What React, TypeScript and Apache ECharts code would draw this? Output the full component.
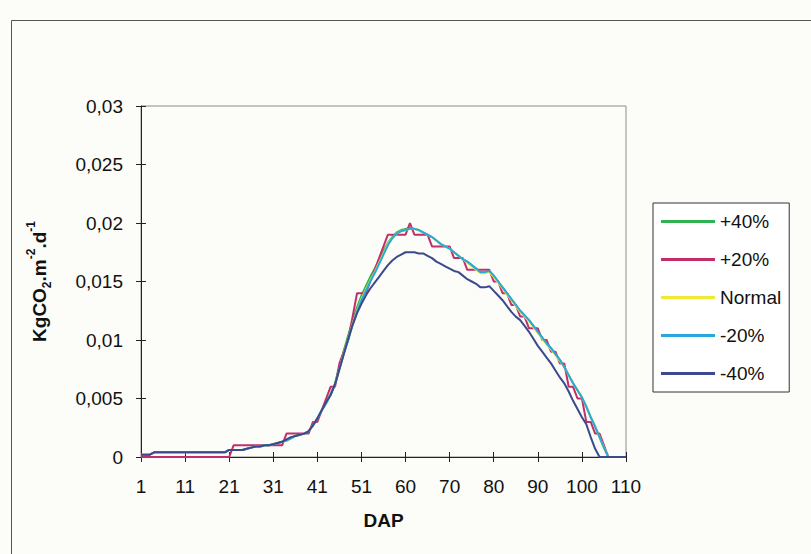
import React, { useEffect, useRef } from 'react';
import * as echarts from 'echarts';

// 111 day positions on the category axis (index 0 = DAP 1, index 110 = DAP 110)
const categories: string[] = Array.from({ length: 111 }, (_, i) => String(i));
const xTickLabels = ['1', '11', '21', '31', '41', '51', '60', '70', '80', '90', '100', '110'];
const yTickLabels = ['0', '0,005', '0,01', '0,015', '0,02', '0,025', '0,03'];
const seriesNames = ['+40%', '+20%', 'Normal', '-20%', '-40%'];
const seriesColors = ['#2fb24f', '#c42d6b', '#efe936', '#2aa8dc', '#3a4a8c'];

const plus40 = [
  0.0002, 0.0002, 0.0002, 0.0004, 0.0004, 0.0004, 0.0004, 0.0004, 0.0004, 0.0004,
  0.0004, 0.0004, 0.0004, 0.0004, 0.0004, 0.0004, 0.0004, 0.0004, 0.0004, 0.0004,
  0.0006, 0.0006, 0.0006, 0.0006, 0.0007, 0.0008, 0.0009, 0.0009, 0.0010, 0.0010,
  0.0011, 0.0012, 0.0013, 0.0014, 0.0016, 0.0018, 0.0019, 0.0020, 0.0022, 0.0027,
  0.0033, 0.0040, 0.0046, 0.0054, 0.0063, 0.0077, 0.0091, 0.0104, 0.0117, 0.0128,
  0.0138, 0.0146, 0.0154, 0.0161, 0.0168, 0.0176, 0.0183, 0.0188, 0.0192, 0.0194,
  0.0195, 0.0196, 0.0195, 0.0194, 0.0192, 0.0190, 0.0188, 0.0185, 0.0182, 0.0180,
  0.0178, 0.0175, 0.0172, 0.0169, 0.0167, 0.0164, 0.0161, 0.0158, 0.0158, 0.0159,
  0.0155, 0.0150, 0.0145, 0.0140, 0.0135, 0.0130, 0.0125, 0.0121, 0.0117, 0.0112,
  0.0107, 0.0102, 0.0097, 0.0093, 0.0088, 0.0083, 0.0077, 0.0070, 0.0063, 0.0057,
  0.0051, 0.0043, 0.0034, 0.0026, 0.0017, 0.0008, 0, 0, 0, 0,
  0,
];

const plus20 = [
  0, 0, 0, 0, 0, 0, 0, 0, 0, 0,
  0, 0, 0, 0, 0, 0, 0, 0, 0, 0,
  0, 0.001, 0.001, 0.001, 0.001, 0.001, 0.001, 0.001, 0.001, 0.001,
  0.001, 0.001, 0.001, 0.002, 0.002, 0.002, 0.002, 0.002, 0.002, 0.003,
  0.003, 0.004, 0.005, 0.006, 0.006, 0.008, 0.009, 0.010, 0.012, 0.014,
  0.014, 0.014, 0.015, 0.016, 0.017, 0.018, 0.019, 0.019, 0.019, 0.019,
  0.019, 0.020, 0.019, 0.019, 0.019, 0.019, 0.018, 0.018, 0.018, 0.018,
  0.018, 0.017, 0.017, 0.017, 0.016, 0.016, 0.016, 0.016, 0.016, 0.016,
  0.015, 0.015, 0.014, 0.014, 0.013, 0.013, 0.012, 0.012, 0.011, 0.011,
  0.011, 0.010, 0.010, 0.009, 0.009, 0.008, 0.008, 0.006, 0.006, 0.005,
  0.005, 0.003, 0.003, 0.002, 0.002, 0.001, 0, 0, 0, 0,
  0,
];

const normal = [
  0.0002, 0.0002, 0.0002, 0.0004, 0.0004, 0.0004, 0.0004, 0.0004, 0.0004, 0.0004,
  0.0004, 0.0004, 0.0004, 0.0004, 0.0004, 0.0004, 0.0004, 0.0004, 0.0004, 0.0004,
  0.0006, 0.0006, 0.0006, 0.0006, 0.0007, 0.0008, 0.0009, 0.0009, 0.0010, 0.0010,
  0.0011, 0.0012, 0.0013, 0.0014, 0.0016, 0.0018, 0.0019, 0.0020, 0.0022, 0.0027,
  0.0033, 0.0040, 0.0046, 0.0053, 0.0062, 0.0075, 0.0089, 0.0101, 0.0114, 0.0125,
  0.0135, 0.0143, 0.0151, 0.0158, 0.0166, 0.0174, 0.0182, 0.0187, 0.0191, 0.0193,
  0.0194, 0.0195, 0.0195, 0.0194, 0.0192, 0.0190, 0.0188, 0.0185, 0.0182, 0.0180,
  0.0178, 0.0175, 0.0172, 0.0169, 0.0166, 0.0163, 0.0160, 0.0157, 0.0157, 0.0158,
  0.0154, 0.0149, 0.0144, 0.0139, 0.0134, 0.0129, 0.0124, 0.0120, 0.0116, 0.0111,
  0.0106, 0.0101, 0.0096, 0.0092, 0.0087, 0.0082, 0.0077, 0.0070, 0.0063, 0.0057,
  0.0051, 0.0043, 0.0034, 0.0026, 0.0017, 0.0008, 0, 0, 0, 0,
  0,
];

const minus20 = [
  0.0002, 0.0002, 0.0002, 0.0004, 0.0004, 0.0004, 0.0004, 0.0004, 0.0004, 0.0004,
  0.0004, 0.0004, 0.0004, 0.0004, 0.0004, 0.0004, 0.0004, 0.0004, 0.0004, 0.0004,
  0.0006, 0.0006, 0.0006, 0.0006, 0.0007, 0.0008, 0.0009, 0.0009, 0.0010, 0.0010,
  0.0011, 0.0012, 0.0013, 0.0014, 0.0016, 0.0018, 0.0019, 0.0020, 0.0022, 0.0027,
  0.0033, 0.0040, 0.0046, 0.0053, 0.0062, 0.0075, 0.0088, 0.0100, 0.0113, 0.0124,
  0.0134, 0.0142, 0.0150, 0.0157, 0.0165, 0.0173, 0.0181, 0.0187, 0.0191, 0.0193,
  0.0194, 0.0195, 0.0195, 0.0194, 0.0192, 0.0190, 0.0188, 0.0185, 0.0182, 0.0180,
  0.0178, 0.0175, 0.0172, 0.0169, 0.0167, 0.0164, 0.0161, 0.0158, 0.0158, 0.0159,
  0.0155, 0.0150, 0.0145, 0.0140, 0.0135, 0.0130, 0.0125, 0.0121, 0.0117, 0.0112,
  0.0107, 0.0102, 0.0097, 0.0093, 0.0088, 0.0083, 0.0077, 0.0070, 0.0063, 0.0057,
  0.0051, 0.0043, 0.0034, 0.0026, 0.0017, 0.0008, 0, 0, 0, 0,
  0,
];

const minus40 = [
  0.0002, 0.0002, 0.0002, 0.0004, 0.0004, 0.0004, 0.0004, 0.0004, 0.0004, 0.0004,
  0.0004, 0.0004, 0.0004, 0.0004, 0.0004, 0.0004, 0.0004, 0.0004, 0.0004, 0.0004,
  0.0006, 0.0006, 0.0006, 0.0006, 0.0007, 0.0008, 0.0009, 0.0009, 0.0010, 0.0010,
  0.0011, 0.0012, 0.0013, 0.0015, 0.0017, 0.0018, 0.0019, 0.0020, 0.0022, 0.0027,
  0.0033, 0.0040, 0.0047, 0.0053, 0.0062, 0.0075, 0.0088, 0.0101, 0.0113, 0.0123,
  0.0131, 0.0138, 0.0144, 0.0149, 0.0154, 0.0159, 0.0164, 0.0168, 0.0171, 0.0173,
  0.0175, 0.0175, 0.0175, 0.0174, 0.0174, 0.0172, 0.0170, 0.0167, 0.0165, 0.0163,
  0.0161, 0.0159, 0.0158, 0.0155, 0.0152, 0.0150, 0.0148, 0.0145, 0.0145, 0.0146,
  0.0142, 0.0138, 0.0134, 0.0129, 0.0124, 0.0120, 0.0117, 0.0112, 0.0107, 0.0101,
  0.0095, 0.0090, 0.0085, 0.0080, 0.0074, 0.0068, 0.0063, 0.0056, 0.0048, 0.0041,
  0.0034, 0.0028, 0.0017, 0.0007, 0, 0, 0, 0, 0, 0,
  0,
];

const seriesData = [plus40, plus20, normal, minus20, minus40];

const FONT = '"Liberation Sans", Arial, sans-serif';

export default function App() {
  const ref = useRef<HTMLDivElement>(null);

  useEffect(() => {
    if (!ref.current) return;
    const chart = echarts.init(ref.current, undefined, { renderer: 'svg' });

    const xCommon = {
      type: 'category' as const,
      data: categories,
      boundaryGap: false,
      position: 'bottom' as const,
    };
    const yCommon = {
      type: 'value' as const,
      min: 0,
      max: 0.03,
      interval: 0.005,
      position: 'left' as const,
      splitLine: { show: false },
    };

    chart.setOption({
      animation: false,
      backgroundColor: '#fcfcf8',
      textStyle: { fontFamily: FONT },
      grid: {
        left: 141,
        right: 185,
        top: 106,
        bottom: 97,
        show: true,
        borderColor: '#8c8c8c',
        borderWidth: 1,
        backgroundColor: 'transparent',
      },
      legend: {
        orient: 'vertical',
        left: 653,
        top: 203,
        padding: [9, 8, 9, 8],
        itemGap: 19,
        itemWidth: 54,
        itemHeight: 3,
        icon: 'rect',
        borderColor: '#333',
        borderWidth: 1,
        backgroundColor: '#ffffff',
        textStyle: { fontSize: 19, color: '#111', fontFamily: FONT },
        data: seriesNames,
      },
      xAxis: [
        {
          ...xCommon,
          name: 'DAP',
          nameLocation: 'middle',
          nameGap: 54,
          nameTextStyle: { fontSize: 19, fontWeight: 'bold', color: '#111', fontFamily: FONT },
          axisLine: { show: true, lineStyle: { color: '#222', width: 1 } },
          axisTick: { show: true, interval: 9, length: 5, lineStyle: { color: '#222' } },
          axisLabel: {
            interval: 9,
            margin: 20,
            fontSize: 19,
            color: '#111',
            fontFamily: FONT,
            formatter: (_v: string, idx: number) => xTickLabels[Math.round(idx / 10)] ?? '',
          },
        },
        {
          ...xCommon,
          axisLine: { show: false },
          axisTick: { show: true, inside: true, interval: 9, length: 5, lineStyle: { color: '#222' } },
          axisLabel: { show: false },
        },
      ],
      yAxis: [
        {
          ...yCommon,
          name: '{b|KgCO}{s|2}{b|.m}{p|-2}{b|.d}{p|-1}',
          nameLocation: 'middle',
          nameGap: 88,
          nameTextStyle: {
            rich: {
              b: { fontSize: 19, fontWeight: 'bold', color: '#111', fontFamily: FONT, lineHeight: 28 },
              s: { fontSize: 12, fontWeight: 'bold', color: '#111', fontFamily: FONT, lineHeight: 14, verticalAlign: 'bottom' },
              p: { fontSize: 12, fontWeight: 'bold', color: '#111', fontFamily: FONT, lineHeight: 14, verticalAlign: 'top' },
            },
          },
          axisLine: { show: true, lineStyle: { color: '#222', width: 1 } },
          axisTick: { show: true, length: 5, lineStyle: { color: '#222' } },
          axisLabel: {
            margin: 18,
            fontSize: 19,
            color: '#111',
            fontFamily: FONT,
            formatter: (v: number) => yTickLabels[Math.round(v / 0.005)] ?? '',
          },
        },
        {
          ...yCommon,
          axisLine: { show: false },
          axisTick: { show: true, inside: true, length: 5, lineStyle: { color: '#222' } },
          axisLabel: { show: false },
        },
      ],
      series: seriesNames.map((name, k) => ({
        name,
        type: 'line',
        xAxisIndex: 0,
        yAxisIndex: 0,
        data: seriesData[k],
        showSymbol: false,
        symbol: 'none',
        lineStyle: { color: seriesColors[k], width: 2 },
        itemStyle: { color: seriesColors[k] },
        z: 2 + k,
      })),
      graphic: [
        {
          type: 'rect',
          left: 9,
          top: 18,
          shape: { width: 900, height: 700 },
          style: { fill: 'none', stroke: '#555', lineWidth: 1 },
          silent: true,
        },
      ],
    });

    return () => chart.dispose();
  }, []);

  return (
    <div
      ref={ref}
      style={{ position: 'fixed', left: 0, top: 0, width: 811, height: 554 }}
    />
  );
}
